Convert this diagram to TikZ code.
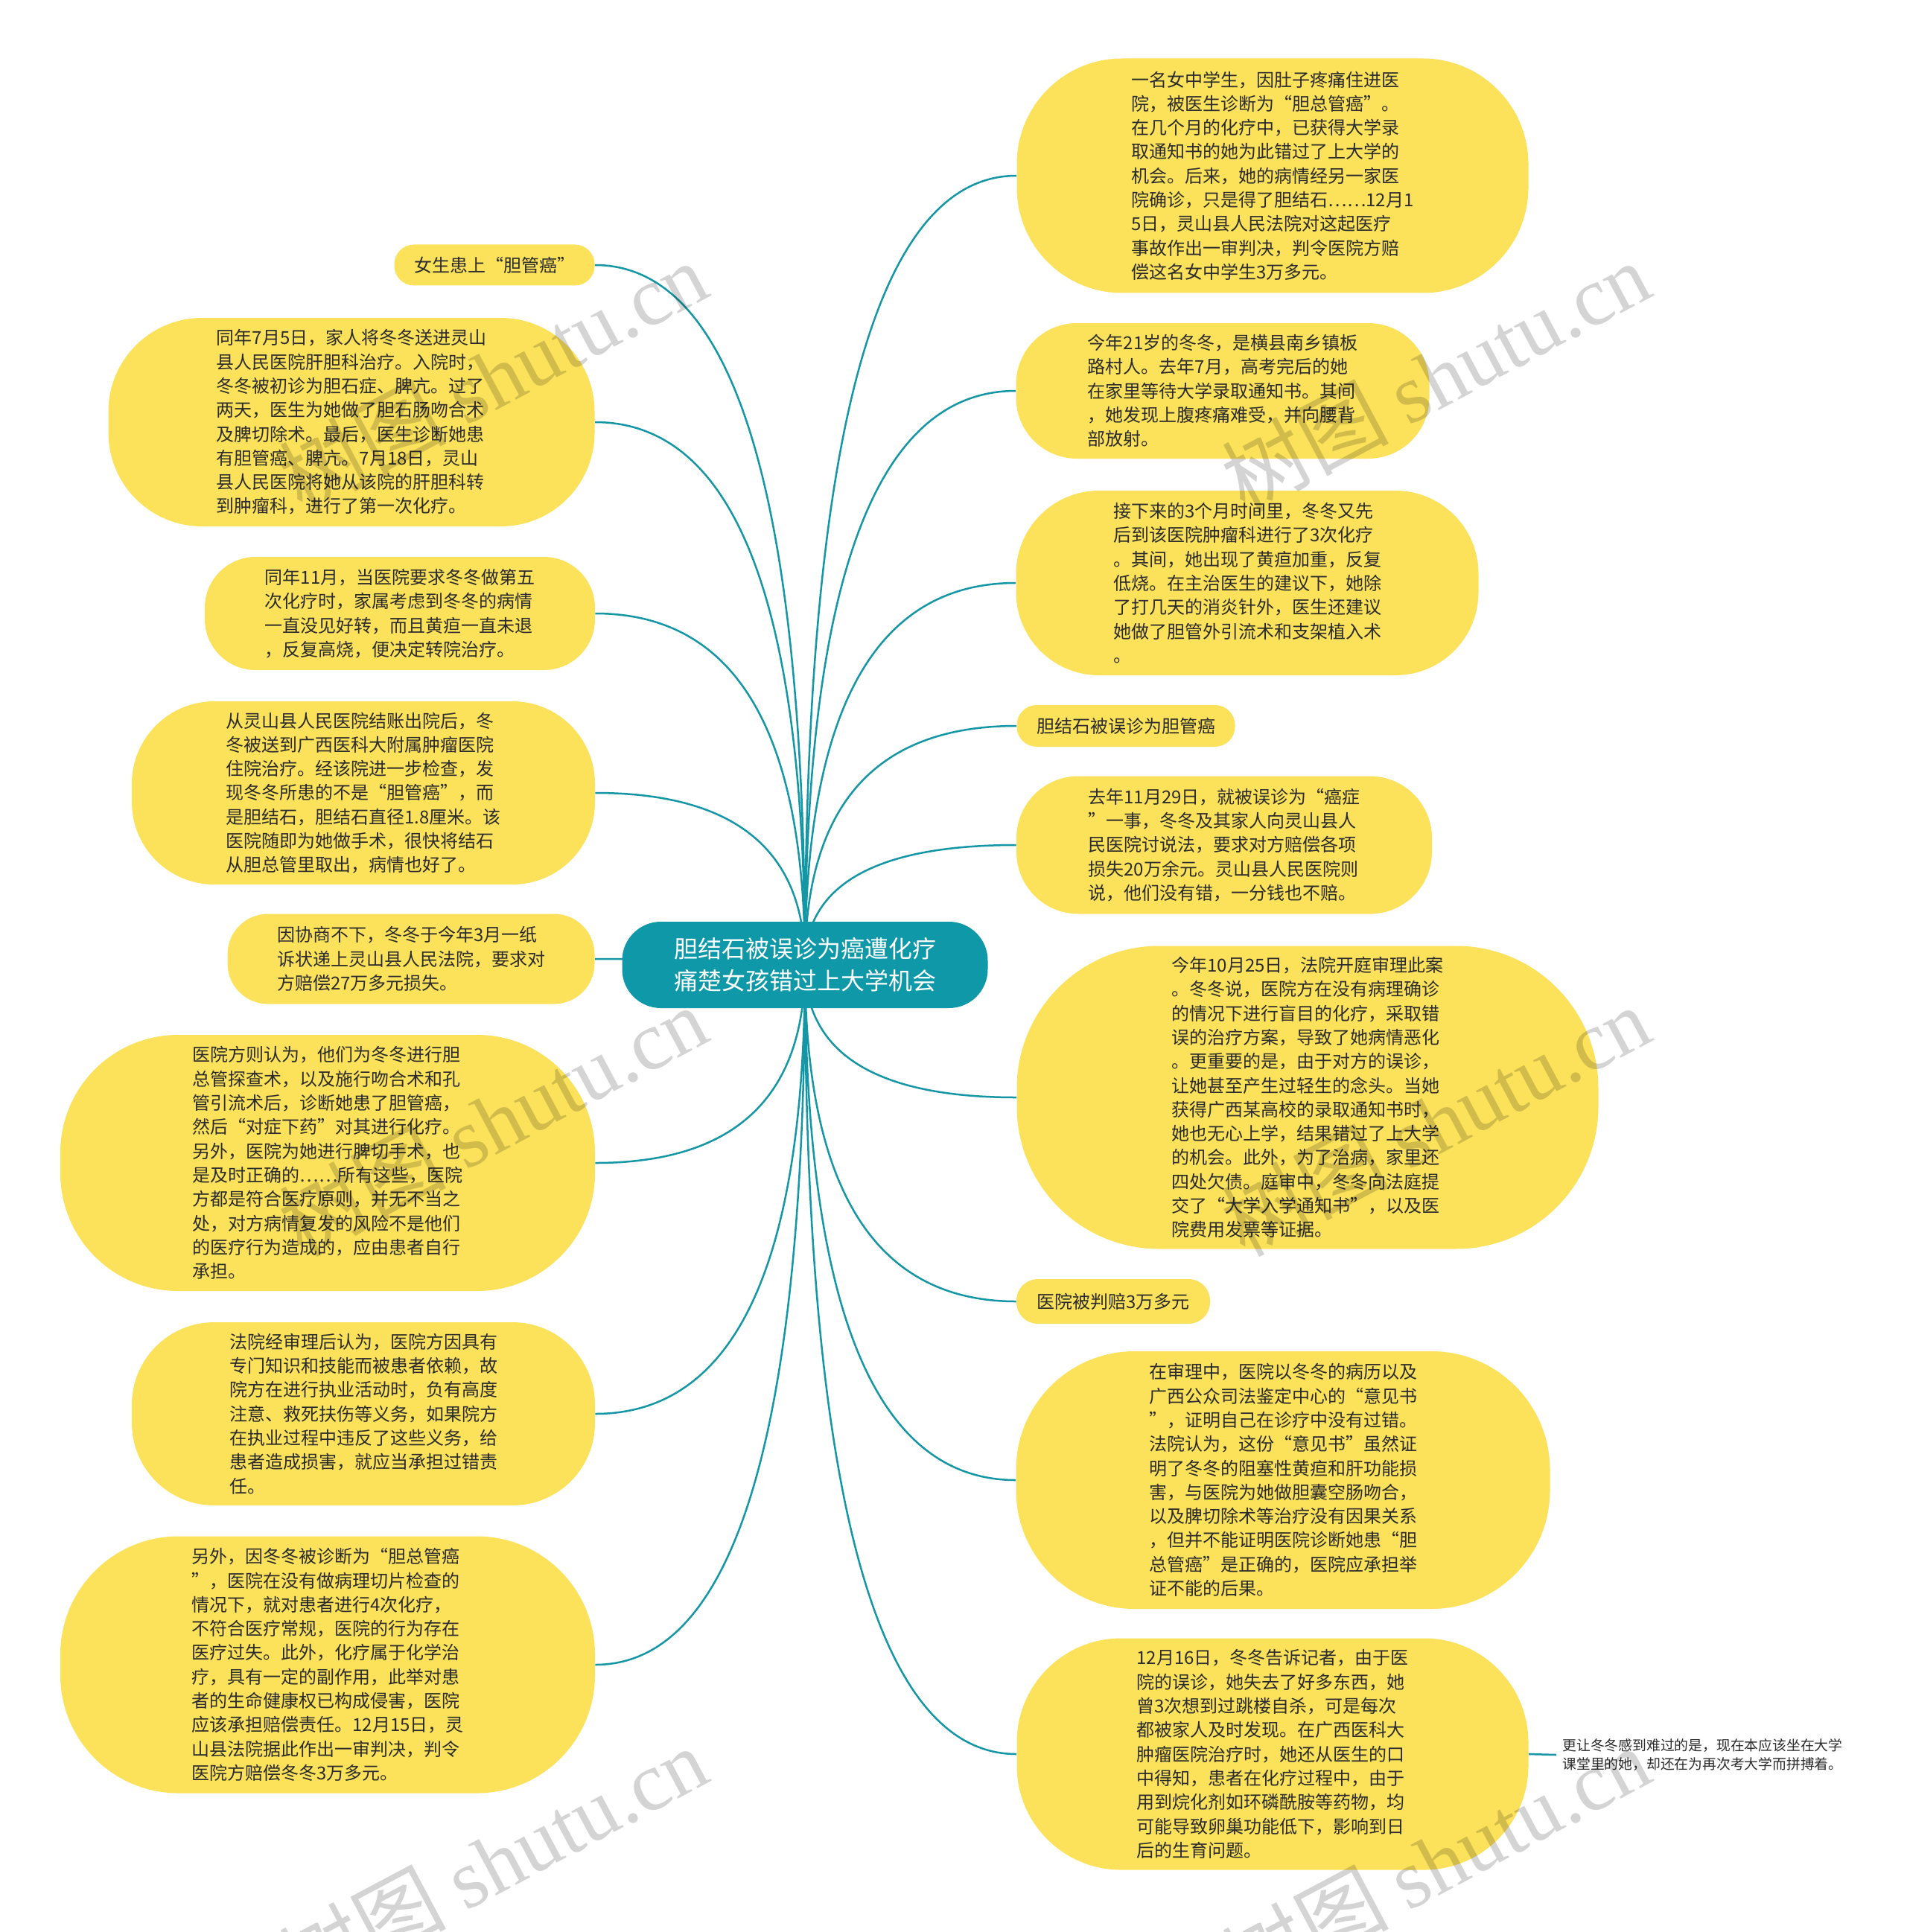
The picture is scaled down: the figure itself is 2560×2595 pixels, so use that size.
\documentclass[tikz,border=0pt]{standalone}
\usepackage{fontspec}
\setmainfont{Noto Sans CJK SC}
\newfontfamily\wmlatin{Liberation Serif}
\usetikzlibrary{calc}
\definecolor{leafyellow}{HTML}{FCE25A}
\definecolor{rootteal}{HTML}{0F99A8}
\definecolor{edgeteal}{HTML}{1596A5}
\definecolor{textdark}{HTML}{2B2B2B}
\pgfdeclarelayer{bglayer}
\pgfdeclarelayer{edgelayer}
\pgfsetlayers{bglayer,edgelayer,main}
\newcommand\leaffont{\fontsize{12pt}{16.15pt}\selectfont}
\newcommand\rootfont{\fontsize{16pt}{21.5pt}\selectfont}
\newcommand\notefont{\fontsize{9.4pt}{12.4pt}\selectfont}
\newcommand\wmfont{\fontsize{56pt}{60pt}\selectfont}
\tikzset{
  leaf/.style={fill=leafyellow, draw=none, inner sep=0pt, align=left, font=\leaffont, text=textdark},
  rootbox/.style={fill=rootteal, draw=none, inner sep=0pt, align=center, font=\rootfont, text=white},
  note/.style={inner xsep=4pt, inner ysep=0pt, align=left, font=\notefont, text=textdark, anchor=west},
  link/.style={draw=edgeteal, line width=1.25pt},
  quadlink/.style={to path={.. controls ($(\tikztostart)!0.667!(\tikztostart |- \tikztotarget)$) and ($(\tikztotarget)!0.667!(\tikztostart |- \tikztotarget)$) .. (\tikztotarget)}},
  wm/.style={text=black, text opacity=0.17, font=\wmfont, rotate=28, inner sep=0pt},
}
% name, cx, cy, w, h (px), radius as fraction of half height, text
\newcommand\leafnode[7]{%
  \pgfmathsetmacro\mywd{#4*0.5}\pgfmathsetmacro\myht{#5*0.5}\pgfmathsetmacro\myrd{#5*0.25*#6}%
  \node[leaf, minimum width=\mywd pt, minimum height=\myht pt, rounded corners=\myrd pt] (#1) at (#2,#3) {#7};%
}
\begin{document}
\begin{tikzpicture}[x=0.5pt, y=-0.5pt]
\begin{pgfonlayer}{bglayer}
\fill[white] (0,0) rectangle (2560,2595);
\end{pgfonlayer}
\useasboundingbox (0,0) rectangle (2560,2595);

\node[rootbox, minimum width=245.5pt, minimum height=58pt, rounded corners=26pt] (c) at (1081,1296) {胆结石被误诊为癌遭化疗\\痛楚女孩错过上大学机会};

% right side
\leafnode{r1}{1709}{236}{687}{315}{0.9}{一名女中学生，因肚子疼痛住进医\\院，被医生诊断为“胆总管癌”。\\在几个月的化疗中，已获得大学录\\取通知书的她为此错过了上大学的\\机会。后来，她的病情经另一家医\\院确诊，只是得了胆结石……12月1\\5日，灵山县人民法院对这起医疗\\事故作出一审判决，判令医院方赔\\偿这名女中学生3万多元。}
\leafnode{r2}{1642}{525}{555}{182}{0.9}{今年21岁的冬冬，是横县南乡镇板\\路村人。去年7月，高考完后的她\\在家里等待大学录取通知书。其间\\，她发现上腹疼痛难受，并向腰背\\部放射。}
\leafnode{r3}{1675}{783}{621}{248}{0.9}{接下来的3个月时间里，冬冬又先\\后到该医院肿瘤科进行了3次化疗\\。其间，她出现了黄疸加重，反复\\低烧。在主治医生的建议下，她除\\了打几天的消炎针外，医生还建议\\她做了胆管外引流术和支架植入术\\。}
\leafnode{r4}{1512}{975}{293}{56}{0.96}{胆结石被误诊为胆管癌}
\leafnode{r5}{1644}{1135}{558}{185}{0.9}{去年11月29日，就被误诊为“癌症\\”一事，冬冬及其家人向灵山县人\\民医院讨说法，要求对方赔偿各项\\损失20万余元。灵山县人民医院则\\说，他们没有错，一分钱也不赔。}
\leafnode{r6}{1756}{1474}{781}{407}{0.94}{今年10月25日，法院开庭审理此案\\。冬冬说，医院方在没有病理确诊\\的情况下进行盲目的化疗，采取错\\误的治疗方案，导致了她病情恶化\\。更重要的是，由于对方的误诊，\\让她甚至产生过轻生的念头。当她\\获得广西某高校的录取通知书时，\\她也无心上学，结果错过了上大学\\的机会。此外，为了治病，家里还\\四处欠债。庭审中，冬冬向法庭提\\交了“大学入学通知书”，以及医\\院费用发票等证据。}
\leafnode{r7}{1495}{1748}{260}{60}{0.96}{医院被判赔3万多元}
\leafnode{r8}{1723}{1988}{717}{346}{0.92}{在审理中，医院以冬冬的病历以及\\广西公众司法鉴定中心的“意见书\\”，证明自己在诊疗中没有过错。\\法院认为，这份“意见书”虽然证\\明了冬冬的阻塞性黄疸和肝功能损\\害，与医院为她做胆囊空肠吻合，\\以及脾切除术等治疗没有因果关系\\，但并不能证明医院诊断她患“胆\\总管癌”是正确的，医院应承担举\\证不能的后果。}
\leafnode{r9}{1709}{2356}{687}{311}{0.9}{12月16日，冬冬告诉记者，由于医\\院的误诊，她失去了好多东西，她\\曾3次想到过跳楼自杀，可是每次\\都被家人及时发现。在广西医科大\\肿瘤医院治疗时，她还从医生的口\\中得知，患者在化疗过程中，由于\\用到烷化剂如环磷酰胺等药物，均\\可能导致卵巢功能低下，影响到日\\后的生育问题。}
\node[note] (r10) at (2090,2357) {更让冬冬感到难过的是，现在本应该坐在大学\\课堂里的她，却还在为再次考大学而拼搏着。};

% left side
\leafnode{l1}{664}{356}{269}{55}{0.96}{女生患上“胆管癌”}
\leafnode{l2}{472}{567}{653}{280}{0.9}{同年7月5日，家人将冬冬送进灵山\\县人民医院肝胆科治疗。入院时，\\冬冬被初诊为胆石症、脾亢。过了\\两天，医生为她做了胆石肠吻合术\\及脾切除术。最后，医生诊断她患\\有胆管癌、脾亢。7月18日，灵山\\县人民医院将她从该院的肝胆科转\\到肿瘤科，进行了第一次化疗。}
\leafnode{l3}{537}{824}{524}{152}{0.9}{同年11月，当医院要求冬冬做第五\\次化疗时，家属考虑到冬冬的病情\\一直没见好转，而且黄疸一直未退\\，反复高烧，便决定转院治疗。}
\leafnode{l4}{488}{1065}{622}{246}{0.9}{从灵山县人民医院结账出院后，冬\\冬被送到广西医科大附属肿瘤医院\\住院治疗。经该院进一步检查，发\\现冬冬所患的不是“胆管癌”，而\\是胆结石，胆结石直径1.8厘米。该\\医院随即为她做手术，很快将结石\\从胆总管里取出，病情也好了。}
\leafnode{l5}{552}{1288}{493}{121}{0.9}{因协商不下，冬冬于今年3月一纸\\诉状递上灵山县人民法院，要求对\\方赔偿27万多元损失。}
\leafnode{l6}{440}{1562}{718}{344}{0.92}{医院方则认为，他们为冬冬进行胆\\总管探查术，以及施行吻合术和孔\\管引流术后，诊断她患了胆管癌，\\然后“对症下药”对其进行化疗。\\另外，医院为她进行脾切手术，也\\是及时正确的……所有这些，医院\\方都是符合医疗原则，并无不当之\\处，对方病情复发的风险不是他们\\的医疗行为造成的，应由患者自行\\承担。}
\leafnode{l7}{488}{1899}{622}{246}{0.9}{法院经审理后认为，医院方因具有\\专门知识和技能而被患者依赖，故\\院方在进行执业活动时，负有高度\\注意、救死扶伤等义务，如果院方\\在执业过程中违反了这些义务，给\\患者造成损害，就应当承担过错责\\任。}
\leafnode{l8}{440}{2236}{718}{345}{0.92}{另外，因冬冬被诊断为“胆总管癌\\”，医院在没有做病理切片检查的\\情况下，就对患者进行4次化疗，\\不符合医疗常规，医院的行为存在\\医疗过失。此外，化疗属于化学治\\疗，具有一定的副作用，此举对患\\者的生命健康权已构成侵害，医院\\应该承担赔偿责任。12月15日，灵\\山县法院据此作出一审判决，判令\\医院方赔偿冬冬3万多元。}

% connectors
\begin{pgfonlayer}{edgelayer}
\foreach \t in {r1,r2,r3,r4,r5,r6,r7,r8,r9}
  \draw[link] (c.center) to[quadlink] (\t.west);
\foreach \t in {l1,l2,l3,l4,l5,l6,l7,l8}
  \draw[link] (c.center) to[quadlink] (\t.east);
\draw[link] (r9.east) -- (r10.west);
\end{pgfonlayer}

% watermarks
\node[wm] (wm1) at (662,505) {树图 {\wmlatin shutu.cn}};
\node[wm] (wm2) at (1928,505) {树图 {\wmlatin shutu.cn}};
\node[wm] (wm3) at (662,1505) {树图 {\wmlatin shutu.cn}};
\node[wm] (wm4) at (1928,1505) {树图 {\wmlatin shutu.cn}};
\node[wm] (wm5) at (662,2500) {树图 {\wmlatin shutu.cn}};
\node[wm] (wm6) at (1928,2500) {树图 {\wmlatin shutu.cn}};
\end{tikzpicture}
\end{document}
